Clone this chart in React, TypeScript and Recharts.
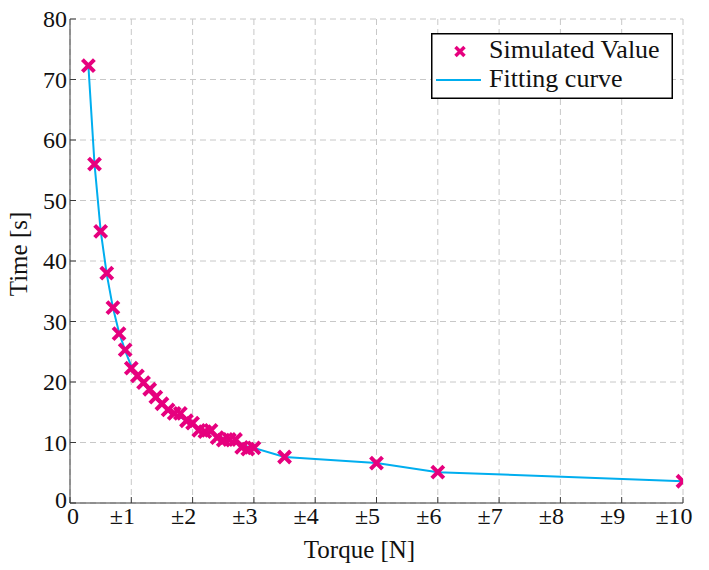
import { ComposedChart, Line, Scatter, XAxis, YAxis, CartesianGrid, Legend } from 'recharts'

document.body.style.margin = '0'

const torque = [
  0.3, 0.4, 0.5, 0.6, 0.7, 0.8, 0.9, 1.0, 1.1, 1.2, 1.3, 1.4, 1.5, 1.6, 1.7, 1.8,
  1.9, 2.0, 2.1, 2.2, 2.3, 2.4, 2.5, 2.6, 2.7, 2.8, 2.9, 3.0, 3.5, 5, 6, 10,
]
const simulated = [
  72.3, 56.0, 44.9, 38.0, 32.3, 28.0, 25.3, 22.3, 21.0, 19.9, 18.8, 17.5, 16.4, 15.4, 14.8, 14.8,
  13.6, 13.2, 12.0, 11.8, 12.0, 10.8, 10.4, 10.5, 10.5, 9.2, 8.9, 9.1, 7.6, 6.6, 5.1, 3.6,
]
const fitted = [
  72.3, 56.0, 45.0, 37.8, 32.3, 28.2, 25.2, 22.6, 21.0, 19.7, 18.6, 17.4, 16.4, 15.5, 14.8, 14.2,
  13.6, 13.0, 12.4, 12.0, 11.6, 11.1, 10.7, 10.4, 10.1, 9.6, 9.3, 9.1, 7.6, 6.6, 5.1, 3.6,
]
const xTicks = [0, 1, 2, 3, 4, 5, 6, 7, 8, 9, 10]
const yTicks = [0, 10, 20, 30, 40, 50, 60, 70, 80]

const points = torque.map((x, i) => ({ x, y: simulated[i] }))
const fitPoints = torque.map((x, i) => ({ x, fit: fitted[i] }))

const FONT = "'Liberation Serif', 'Times New Roman', Tinos, 'DejaVu Serif', serif"
const txt = { fontFamily: FONT }
const AXIS = '#3a3a3a'
const MARK = '#e6007e'
const CURVE = '#00aeef'

const fmtX = (v: number) => (v === 0 ? '0' : `±${v}`)

// MATLAB-style axes: tick marks point into the plot
const BottomTick = ({ x, y, payload }: any) => (
  <g>
    <line x1={x} y1={y} x2={x} y2={y - 6} stroke={AXIS} />
    <text x={payload.value === 0 ? x + 3 : x - 9} y={y + 21} textAnchor="middle" style={txt} fontSize={24} fill="#111">
      {fmtX(payload.value)}
    </text>
  </g>
)

const LeftTick = ({ x, y, payload }: any) => (
  <g>
    <line x1={x} y1={y} x2={x + 6} y2={y} stroke={AXIS} />
    <text x={x - 3} y={payload.value === 0 ? y + 5 : y + 8} textAnchor="end" style={txt} fontSize={24} fill="#111">
      {payload.value}
    </text>
  </g>
)

const TopTick = ({ x, y }: any) => <line x1={x} y1={y} x2={x} y2={y + 6} stroke={AXIS} />
const RightTick = ({ x, y }: any) => <line x1={x} y1={y} x2={x - 6} y2={y} stroke={AXIS} />

const Cross = ({ cx, cy }: any) => {
  const r = 6
  return (
    <path
      d={`M${cx - r},${cy - r}L${cx + r},${cy + r}M${cx + r},${cy - r}L${cx - r},${cy + r}`}
      stroke={MARK}
      strokeWidth={4}
      fill="none"
    />
  )
}

const LegendBox = () => (
  <svg width={242} height={66} style={{ display: 'block' }}>
    <rect x={0.75} y={0.75} width={240.5} height={64.5} fill="#fff" stroke="#000" strokeWidth={1.5} />
    <path d="M24.5,14L33.5,23M33.5,14L24.5,23" stroke={MARK} strokeWidth={3.5} />
    <line x1={5} y1={47} x2={50} y2={47} stroke={CURVE} strokeWidth={2} />
    <text x={58} y={25} style={txt} fontSize={26} fill="#111">
      Simulated Value
    </text>
    <text x={58} y={54} style={txt} fontSize={26} fill="#111">
      Fitting curve
    </text>
  </svg>
)

export default function App() {
  return (
    <ComposedChart width={709} height={570} margin={{ top: 19, right: 26, left: 0, bottom: 0 }}>
      <CartesianGrid stroke="#c8c8c8" strokeDasharray="6 4" />
      <XAxis
        dataKey="x"
        type="number"
        domain={[0, 10]}
        ticks={xTicks}
        allowDataOverflow
        height={67}
        tickSize={0}
        tickMargin={0}
        tickLine={false}
        axisLine={{ stroke: AXIS }}
        tick={BottomTick}
        label={{
          content: ({ viewBox }: any) => (
            <text
              x={viewBox.x + viewBox.width / 2 - 17}
              y={558}
              textAnchor="middle"
              style={txt}
              fontSize={25}
              fill="#111"
            >
              Torque [N]
            </text>
          ),
        }}
      />
      <XAxis
        xAxisId="top"
        orientation="top"
        type="number"
        domain={[0, 10]}
        ticks={xTicks}
        allowDataOverflow
        height={0}
        tickSize={0}
        tickMargin={0}
        tickLine={false}
        axisLine={{ stroke: AXIS }}
        tick={TopTick}
      />
      <YAxis
        type="number"
        domain={[0, 80]}
        ticks={yTicks}
        allowDataOverflow
        width={70}
        tickSize={0}
        tickMargin={0}
        tickLine={false}
        axisLine={{ stroke: AXIS }}
        tick={LeftTick}
        label={{
          content: () => (
            <text
              x={27}
              y={254}
              transform="rotate(-90, 27, 254)"
              textAnchor="middle"
              style={txt}
              fontSize={25}
              fill="#111"
            >
              Time [s]
            </text>
          ),
        }}
      />
      <YAxis
        yAxisId="right"
        orientation="right"
        type="number"
        domain={[0, 80]}
        ticks={yTicks}
        allowDataOverflow
        width={0}
        tickSize={0}
        tickMargin={0}
        tickLine={false}
        axisLine={{ stroke: AXIS }}
        tick={RightTick}
      />
      <Legend
        layout="horizontal"
        verticalAlign="middle"
        align="center"
        content={() => <LegendBox />}
        wrapperStyle={{ position: 'absolute', left: 431, top: 33, width: 242, height: 66 }}
      />
      <Line
        data={fitPoints}
        dataKey="fit"
        type="linear"
        stroke={CURVE}
        strokeWidth={2}
        dot={false}
        activeDot={false}
        isAnimationActive={false}
      />
      <Scatter data={points} dataKey="y" shape={<Cross />} isAnimationActive={false} />
    </ComposedChart>
  )
}
